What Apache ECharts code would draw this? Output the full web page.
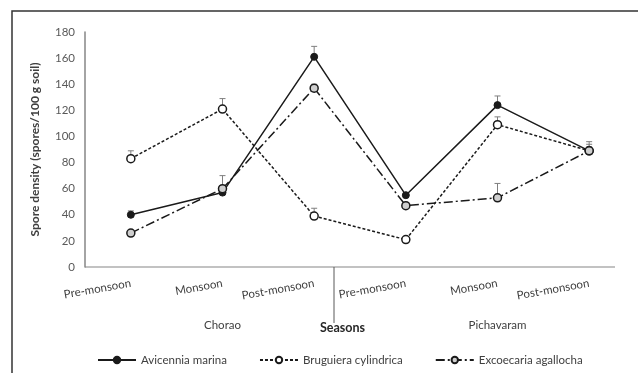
<!DOCTYPE html>
<html>
<head>
<meta charset="utf-8">
<script src="https://cdn.jsdelivr.net/npm/echarts@6/dist/echarts.min.js"></script>
<style>
  html, body { margin: 0; padding: 0; background: #fff; }
  #chart { width: 638px; height: 373px; }
</style>
</head>
<body>
<div id="chart"></div>
<script>
// Seasons sampled at the two mangrove sites
const seasons = ['Pre-monsoon', 'Monsoon', 'Post-monsoon', 'Pre-monsoon', 'Monsoon', 'Post-monsoon'];
const sites = ['', 'Chorao', '', '', 'Pichavaram', ''];

// Spore density (spores/100 g soil) per species
const avicennia = [40, 57, 161, 55, 124, 89];
const bruguiera = [83, 121, 39, 21, 109, 89];
const excoecaria = [26, 60, 137, 47, 53, 89];

// Upper error (standard error) for each point
const avicenniaErr = [3, 2, 8, 1, 7, 5];
const bruguieraErr = [6, 8, 6, 1, 6, 3];
const excoecariaErr = [2, 10, 3, 1, 11, 7];

const yTicks = { min: 0, max: 180, step: 20 };

const FONT = 'Lato, "Open Sans", sans-serif';
const INK = '#1a1a1a';

function errorSeries(name, values, errs) {
  return {
    name: name,
    type: 'custom',
    z: 1,
    silent: true,
    data: values.map((v, i) => [i, v, errs[i]]),
    renderItem: function (params, api) {
      const i = api.value(0), v = api.value(1), e = api.value(2);
      const p0 = api.coord([i, v]);
      const p1 = api.coord([i, v + e]);
      const style = { stroke: '#7f7f7f', lineWidth: 1 };
      return {
        type: 'group',
        children: [
          { type: 'line', shape: { x1: p0[0], y1: p0[1], x2: p1[0], y2: p1[1] }, style: style },
          { type: 'line', shape: { x1: p1[0] - 3, y1: p1[1], x2: p1[0] + 3, y2: p1[1] }, style: style }
        ]
      };
    }
  };
}

const chart = echarts.init(document.getElementById('chart'), null, { renderer: 'canvas' });

chart.setOption({
  animation: false,
  backgroundColor: '#fff',
  textStyle: { fontFamily: FONT },
  grid: { left: 85, right: 3, top: 32, bottom: 106, containLabel: false },
  legend: {
    data: ['Avicennia marina', 'Bruguiera cylindrica', 'Excoecaria agallocha'],
    left: 92,
    top: 349,
    itemWidth: 38,
    itemHeight: 8,
    itemGap: 32,
    textStyle: { fontFamily: FONT, fontSize: 11.5, color: '#404040' }
  },
  xAxis: [
    {
      type: 'category',
      data: seasons,
      boundaryGap: true,
      axisLine: { show: false },
      axisTick: { show: false },
      axisLabel: {
        rotate: 10,
        margin: 16,
        interval: 0,
        fontFamily: FONT,
        fontSize: 11.5,
        color: '#404040'
      }
    },
    {
      type: 'category',
      data: sites,
      position: 'bottom',
      boundaryGap: true,
      axisLine: { show: false },
      axisTick: { show: false },
      axisLabel: {
        interval: 0,
        margin: 52,
        fontFamily: FONT,
        fontSize: 11.5,
        color: '#404040'
      }
    }
  ],
  yAxis: {
    type: 'value',
    min: yTicks.min,
    max: yTicks.max,
    interval: yTicks.step,
    name: 'Spore density (spores/100 g soil)',
    nameLocation: 'middle',
    nameGap: 44,
    nameTextStyle: { fontFamily: FONT, fontSize: 12, fontWeight: 'bold', color: '#404040' },
    axisLine: { show: true, lineStyle: { color: '#868686', width: 1.5 } },
    axisTick: { show: false },
    splitLine: { show: false },
    axisLabel: { margin: 10, fontFamily: FONT, fontSize: 11.5, color: '#595959' }
  },
  series: [
    errorSeries('err-avicennia', avicennia, avicenniaErr),
    errorSeries('err-bruguiera', bruguiera, bruguieraErr),
    errorSeries('err-excoecaria', excoecaria, excoecariaErr),
    {
      name: 'Avicennia marina',
      type: 'line',
      z: 3,
      data: avicennia,
      symbol: 'circle',
      symbolSize: 7,
      lineStyle: { color: INK, width: 1.5, type: 'solid' },
      itemStyle: { color: INK, borderColor: INK, borderWidth: 1 }
    },
    {
      name: 'Bruguiera cylindrica',
      type: 'line',
      z: 3,
      data: bruguiera,
      symbol: 'circle',
      symbolSize: 8,
      lineStyle: { color: INK, width: 1.5, type: [3, 2] },
      itemStyle: { color: '#fff', borderColor: INK, borderWidth: 1.5 }
    },
    {
      name: 'Excoecaria agallocha',
      type: 'line',
      z: 3,
      data: excoecaria,
      symbol: 'circle',
      symbolSize: 8,
      lineStyle: { color: INK, width: 1.5, type: [9, 3, 2, 3] },
      itemStyle: { color: '#cfcfcf', borderColor: INK, borderWidth: 1.5 }
    }
  ],
  graphic: [
    // outer frame (top and left edges fall inside the canvas)
    { type: 'rect', shape: { x: 12, y: 11, width: 700, height: 420 }, style: { fill: 'none', stroke: '#333', lineWidth: 1.5 }, silent: true },
    // category axis line
    { type: 'line', shape: { x1: 85, y1: 267, x2: 615, y2: 267 }, style: { stroke: '#868686', lineWidth: 1.2 }, silent: true },
    // divider between the two site groups
    { type: 'line', shape: { x1: 334, y1: 267, x2: 334, y2: 323 }, style: { stroke: '#595959', lineWidth: 1 }, silent: true },
    // axis title
    { type: 'text', left: 320, top: 321, style: { text: 'Seasons', fontFamily: FONT, fontSize: 12.5, fontWeight: 'bold', fill: '#262626' }, silent: true }
  ]
});
</script>
</body>
</html>
